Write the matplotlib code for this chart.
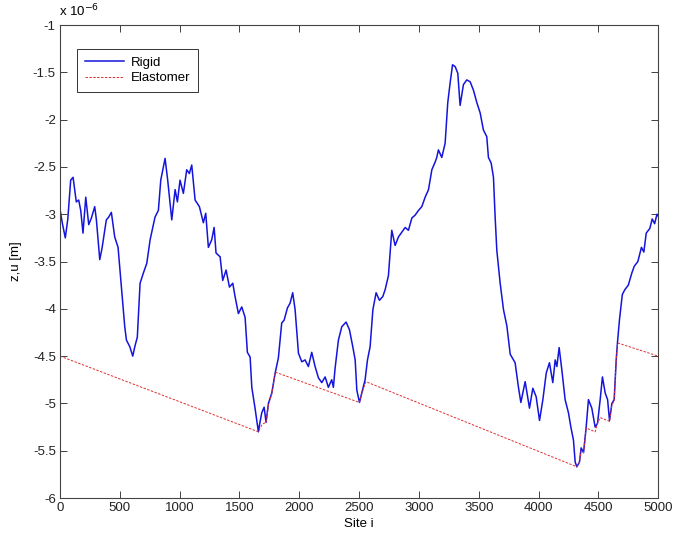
import matplotlib.pyplot as plt
from matplotlib.ticker import FuncFormatter

plt.rcParams['font.family'] = ['Liberation Sans', 'DejaVu Sans']
plt.rcParams['axes.unicode_minus'] = False

# Perfil rígido (sítio i, altura em unidades de 1e-6 m)
sitio_rigido = [0, 20, 44, 65, 89, 109, 136, 156, 173, 192, 215, 240, 262, 290, 304, 332, 351,
                387, 407, 429, 457, 485, 513, 541, 555, 583, 608, 625, 646, 669, 697, 725, 753,
                794, 822, 842, 878, 900, 934, 962, 981, 1003, 1031, 1059, 1081, 1101, 1129,
                1165, 1198, 1218, 1240, 1268, 1288, 1304, 1338, 1360, 1388, 1416, 1444, 1463,
                1491, 1519, 1547, 1566, 1589, 1603, 1630, 1645, 1658, 1667, 1686, 1706, 1722,
                1742, 1770, 1798, 1825, 1853, 1873, 1901, 1923, 1945, 1965, 1993, 2021, 2048,
                2076, 2104, 2132, 2160, 2188, 2216, 2243, 2271, 2285, 2299, 2327, 2355, 2391,
                2419, 2447, 2467, 2481, 2503, 2522, 2550, 2570, 2592, 2615, 2642, 2670, 2698,
                2717, 2745, 2773, 2801, 2829, 2857, 2885, 2912, 2941, 2968, 2996, 3024, 3052,
                3080, 3108, 3135, 3149, 3163, 3191, 3219, 3241, 3261, 3281, 3303, 3325, 3344,
                3372, 3400, 3428, 3456, 3484, 3512, 3539, 3567, 3581, 3604, 3623, 3637, 3651,
                3679, 3707, 3735, 3763, 3790, 3804, 3832, 3852, 3888, 3924, 3952, 3980, 4008,
                4036, 4064, 4091, 4119, 4139, 4153, 4172, 4195, 4222, 4250, 4270, 4292, 4306,
                4320, 4342, 4356, 4376, 4398, 4417, 4445, 4473, 4493, 4515, 4534, 4557, 4577,
                4593, 4613, 4632, 4649, 4660, 4676, 4700, 4720, 4750, 4780, 4800, 4830, 4860,
                4880, 4900, 4930, 4950, 4970, 4990, 5000]
z_rigido = [-2.95, -3.10, -3.25, -3.05, -2.64, -2.61, -2.87, -2.85, -2.96, -3.20, -2.82, -3.11,
            -3.04, -2.92, -3.06, -3.48, -3.36, -3.06, -3.03, -2.98, -3.24, -3.35, -3.77, -4.19,
            -4.33, -4.40, -4.50, -4.40, -4.30, -3.73, -3.62, -3.52, -3.27, -3.03, -2.96, -2.64,
            -2.41, -2.64, -3.06, -2.74, -2.87, -2.64, -2.78, -2.53, -2.57, -2.48, -2.85, -2.92,
            -3.09, -2.99, -3.35, -3.27, -3.14, -3.41, -3.45, -3.70, -3.59, -3.77, -3.73, -3.87,
            -4.05, -3.98, -4.09, -4.46, -4.51, -4.83, -5.05, -5.18, -5.30, -5.23, -5.10, -5.04,
            -5.20, -5.00, -4.89, -4.68, -4.52, -4.15, -4.12, -3.99, -3.94, -3.83, -4.01, -4.47,
            -4.56, -4.54, -4.61, -4.46, -4.61, -4.73, -4.78, -4.72, -4.83, -4.75, -4.83, -4.63,
            -4.33, -4.19, -4.14, -4.22, -4.40, -4.54, -4.86, -4.99, -4.89, -4.75, -4.54, -4.40,
            -4.01, -3.83, -3.91, -3.87, -3.80, -3.65, -3.17, -3.33, -3.24, -3.19, -3.14, -3.17,
            -3.04, -3.01, -2.96, -2.92, -2.82, -2.74, -2.53, -2.45, -2.40, -2.32, -2.40, -2.25,
            -1.82, -1.61, -1.42, -1.44, -1.51, -1.85, -1.63, -1.58, -1.60, -1.69, -1.82, -1.93,
            -2.11, -2.18, -2.40, -2.46, -2.61, -3.03, -3.38, -3.73, -4.01, -4.18, -4.48, -4.54,
            -4.57, -4.83, -4.99, -4.77, -5.05, -4.84, -4.93, -5.18, -4.96, -4.68, -4.57, -4.78,
            -4.54, -4.61, -4.41, -4.65, -4.96, -5.10, -5.25, -5.39, -5.62, -5.67, -5.62, -5.47,
            -5.52, -5.25, -4.96, -5.05, -5.25, -5.21, -4.96, -4.72, -4.89, -4.96, -5.18, -5.00,
            -4.96, -4.54, -4.35, -4.12, -3.85, -3.80, -3.75, -3.62, -3.55, -3.50, -3.35, -3.40,
            -3.20, -3.15, -3.05, -3.10, -3.00, -3.02]

# Superfície do elastômero
sitio_elast = [0, 1658, 1690, 1722, 1742, 1770, 1800, 2503, 2522, 2556, 4320, 4342, 4356,
               4376, 4398, 4473, 4493, 4515, 4593, 4613, 4632, 4649, 4660, 5000]
z_elast = [-4.50, -5.30, -5.22, -5.20, -5.02, -4.90, -4.67, -4.99, -4.90, -4.77, -5.67, -5.62,
           -5.50, -5.52, -5.26, -5.30, -5.21, -5.15, -5.19, -5.02, -4.97, -4.56, -4.36, -4.50]

fig = plt.figure(figsize=(6.73, 5.37), dpi=100)
ax = fig.add_axes([0.0892, 0.0726, 0.8888, 0.8808])

ax.plot(sitio_rigido, z_rigido, color='#1414dc', linewidth=1.1, label='Rigid')
ax.plot(sitio_elast, z_elast, color='#e03030', linewidth=0.7, linestyle=(0, (2.5, 1.5)),
        label='Elastomer')

ax.set_xlim(0, 5000)
ax.set_ylim(-6, -1)
ax.set_xticks(range(0, 5001, 500))
ax.set_yticks([-6 + 0.5 * k for k in range(11)])
ax.yaxis.set_major_formatter(FuncFormatter(lambda v, p: '%g' % v))
ax.tick_params(direction='in', length=5, width=0.6, top=True, right=True,
               labelsize=9.5, colors='#222222', pad=3)
for s in ax.spines.values():
    s.set_linewidth(0.8)
    s.set_color('#444444')

ax.set_xlabel('Site i', fontsize=9.5, labelpad=3)
ax.set_ylabel('z,u [m]', fontsize=9.5, labelpad=8)
ax.text(-0.002, 1.012, 'x 10$^{-6}$', transform=ax.transAxes, fontsize=9.5, ha='left', va='bottom')

leg = ax.legend(loc='upper left', bbox_to_anchor=(0.028, 0.95), fontsize=9.5, handlelength=3.0,
                fancybox=False, framealpha=1, edgecolor='#333333', borderpad=0.6,
                labelspacing=0.25, handletextpad=0.5, borderaxespad=0.0)
leg.get_frame().set_linewidth(0.7)

fig.savefig('out.png', dpi=100)
